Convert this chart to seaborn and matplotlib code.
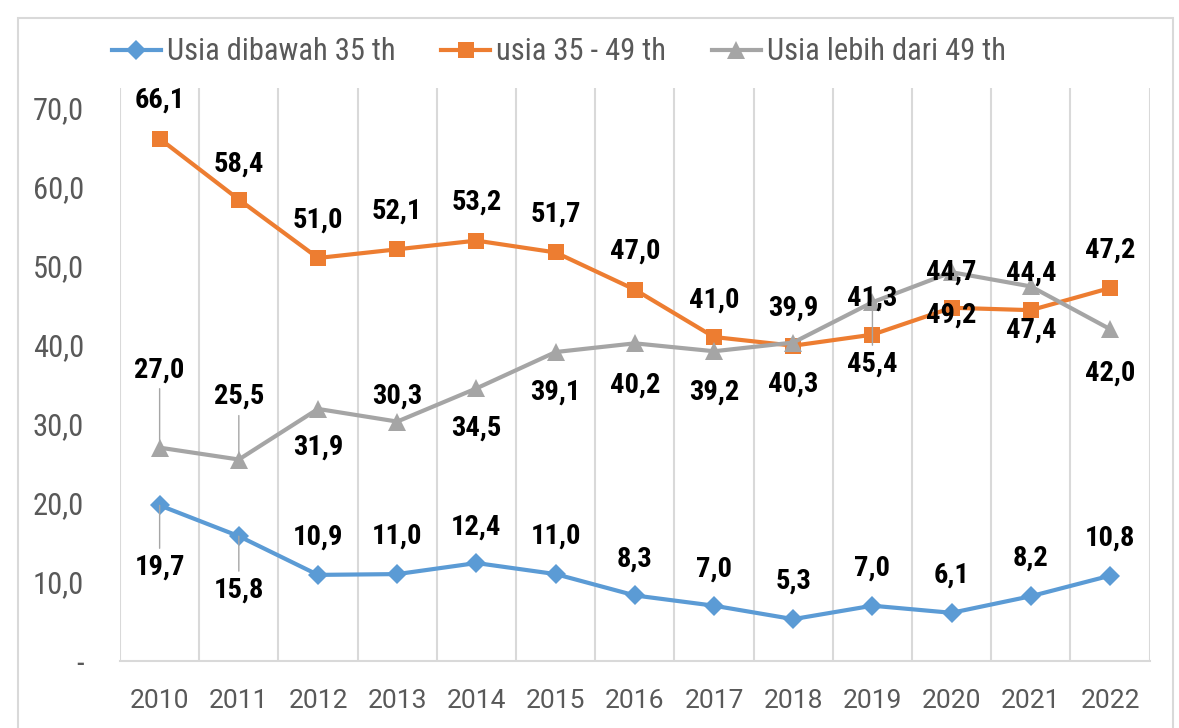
import numpy as np
import pandas as pd
import matplotlib
matplotlib.use('Agg')
import matplotlib.pyplot as plt
import seaborn as sns
from matplotlib import font_manager
from matplotlib.ticker import FuncFormatter
from matplotlib.lines import Line2D
from matplotlib.patches import Rectangle

# data
years = [2010, 2011, 2012, 2013, 2014, 2015, 2016, 2017, 2018, 2019, 2020, 2021, 2022]
under35 = [19.7, 15.8, 10.9, 11.0, 12.4, 11.0, 8.3, 7.0, 5.3, 7.0, 6.1, 8.2, 10.8]
age35_49 = [66.1, 58.4, 51.0, 52.1, 53.2, 51.7, 47.0, 41.0, 39.9, 41.3, 44.7, 44.4, 47.2]
over49 = [27.0, 25.5, 31.9, 30.3, 34.5, 39.1, 40.2, 39.2, 40.3, 45.4, 49.2, 47.4, 42.0]
names = ['Usia dibawah 35 th', 'usia 35 - 49 th', 'Usia lebih dari 49 th']
y_ticks = [0, 10, 20, 30, 40, 50, 60, 70]

# label placement (pixels above(+)/below(-) the point), as in the original
blue_off = [-62, -54, 38, 38, 36, 38, 36, 37, 38, 38, 38, 38, 38]
orange_off = [39, 35, 38, 38, 38, 38, 38, 37, 38, 37, 36, 37, 38]
gray_off = [78, 63, -38, 25, -40, -40, -42, -41, -42, -62, -43, -44, -44]
blue_lead = [True, True] + [False] * 11
gray_lead = [True, True] + [False] * 7 + [True] + [False] * 3

colors = ['#5B9BD5', '#ED7D31', '#A5A5A5']
markers = ['D', 's', '^']
msizes = [10, 12, 13]

df = pd.DataFrame({'year': years * 3,
                   'value': under35 + age35_49 + over49,
                   'series': [n for n in names for _ in years]})

# condensed DIN-like look: take the narrowest family that is installed
avail = {f.name for f in font_manager.fontManager.ttflist}
cands = ['Roboto Condensed', 'Liberation Sans Narrow', 'Roboto', 'Liberation Sans']
NARROW = [next(c for c in cands if c in avail), 'DejaVu Sans']
WIDE = ['Roboto', 'DejaVu Sans']
TEXT = '#595959'
GRID = '#D9D9D9'

fig = plt.figure(figsize=(11.79, 7.28), dpi=100)
ax = fig.add_axes([0.1018, 0.092, 0.8733, 0.787])

for name, c, m, ms in zip(names, colors, markers, msizes):
    sub = df[df['series'] == name]
    sns.lineplot(data=sub, x='year', y='value', ax=ax, color=c, marker=m,
                 markersize=ms, markeredgewidth=0, linewidth=3, zorder=3,
                 legend=False)

def fmt(v):
    return f'{v:.1f}'.replace('.', ',')

for vals, offs, leads in [(under35, blue_off, blue_lead),
                          (age35_49, orange_off, [False] * 13),
                          (over49, gray_off, gray_lead)]:
    for x, v, o, lead in zip(years, vals, offs, leads):
        kw = {}
        if lead:
            kw['arrowprops'] = dict(arrowstyle='-', color='#A6A6A6', lw=1,
                                    shrinkA=2, shrinkB=0)
        ax.annotate(fmt(v), (x, v), xytext=(0, o), textcoords='offset pixels',
                    ha='center', va='center', fontsize=20.5, fontweight='bold',
                    family=NARROW, color='black', zorder=5, **kw)

ax.set_xlim(2009.5, 2022.5)
ax.set_ylim(0, 72.5)
ax.set_xticks(years)
ax.set_xticks(np.arange(2009.5, 2023, 1), minor=True)
ax.set_xticklabels([str(y) for y in years])
ax.set_yticks(y_ticks)
ax.yaxis.set_major_formatter(FuncFormatter(lambda v, p: '-' if v == 0 else fmt(v)))
ax.tick_params(axis='y', length=0, pad=26, labelsize=22, labelcolor=TEXT)
ax.tick_params(axis='x', which='both', length=0, pad=20, labelsize=19, labelcolor=TEXT)
for t in ax.get_yticklabels():
    t.set_family(NARROW)
for t in ax.get_xticklabels():
    t.set_family(WIDE)
ax.grid(False)
ax.grid(which='minor', axis='x', color=GRID, lw=1.5)
for s in ['left', 'top', 'right']:
    ax.spines[s].set_visible(False)
ax.spines['bottom'].set_color(GRID)
ax.spines['bottom'].set_linewidth(1.5)
ax.set_xlabel('')
ax.set_ylabel('')

handles = [Line2D([], [], color=c, marker=m, markersize=ms, markeredgewidth=0, lw=3)
           for c, m, ms in zip(colors, markers, msizes)]
leg = fig.legend(handles, names, loc='center', bbox_to_anchor=(0.474, 1 - 52 / 728),
                 ncol=3, frameon=False, handlelength=1.6, handletextpad=0.2,
                 columnspacing=1.5, prop={'family': NARROW, 'size': 22})
for t in leg.get_texts():
    t.set_color(TEXT)

fig.patches.append(Rectangle((18 / 1179, -0.1), (1173 - 18) / 1179, 0.975 + 0.1,
                             transform=fig.transFigure, fill=False,
                             edgecolor=GRID, lw=1.5))

fig.savefig('out.png', dpi=100)
